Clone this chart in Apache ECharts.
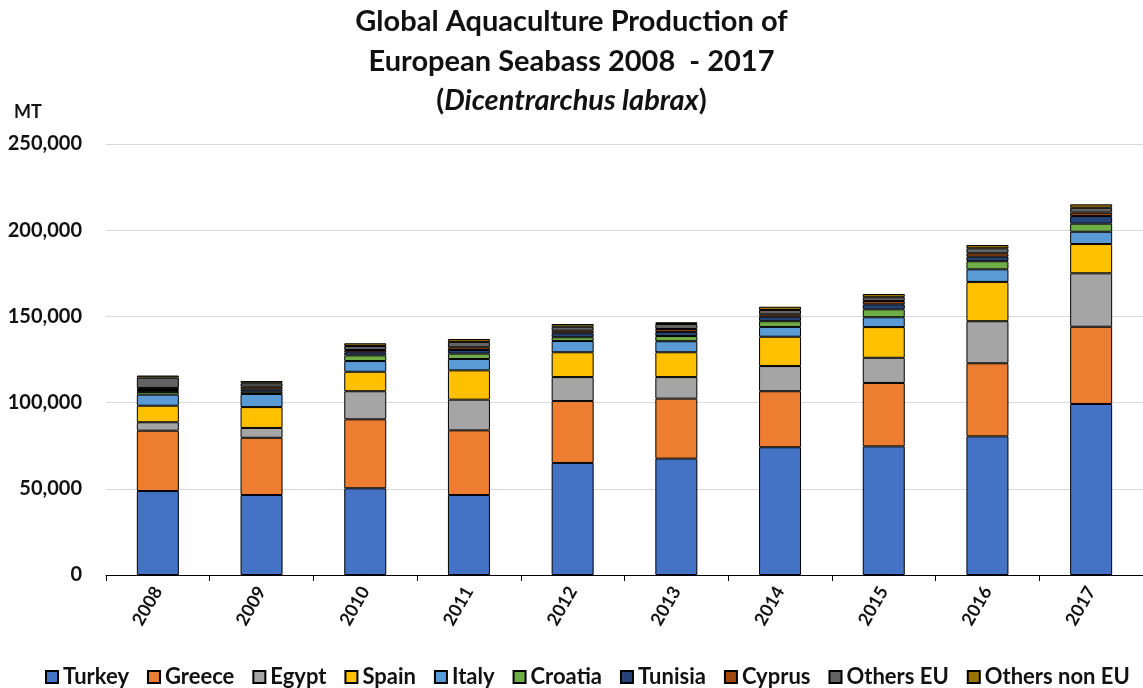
<!DOCTYPE html>
<html>
<head>
<meta charset="utf-8">
<script src="https://cdn.jsdelivr.net/npm/echarts@6/dist/echarts.min.js"></script>
<style>
  html, body { margin: 0; padding: 0; background: #fff; }
  #chart { width: 1143px; height: 688px; }
</style>
</head>
<body>
<div id="chart"></div>
<script>
// Production in metric tonnes (MT), by country, 2008-2017
const years = ['2008', '2009', '2010', '2011', '2012', '2013', '2014', '2015', '2016', '2017'];

const turkey      = [48700, 46400, 50300, 46400, 65000, 67500, 74100, 74600, 80400, 99200];
const greece      = [35000, 33200, 40000, 37500, 35900, 34800, 32500, 36800, 42400, 44800];
const egypt       = [4900, 5700, 16300, 17800, 13900, 12500, 14600, 14600, 24400, 31000];
const spain       = [9600, 12100, 11300, 17000, 14400, 14400, 17000, 17800, 22800, 17000];
const italy       = [6400, 7600, 6200, 6600, 6500, 6400, 5700, 5700, 7300, 7100];
const croatia     = [1600, 1300, 3300, 3100, 2200, 3000, 3300, 4600, 4700, 4700];
const tunisia     = [1100, 1400, 1800, 2100, 2300, 2400, 2600, 2900, 2600, 4400];
const cyprus      = [1200, 1500, 1300, 1600, 1500, 1700, 1400, 1900, 2000, 2000];
const othersEU    = [6000, 2000, 2300, 3100, 2300, 2900, 2500, 2200, 2900, 2800];
const othersNonEU = [1200, 1300, 1600, 1700, 1600, 1000, 1900, 1900, 1900, 2000];

const yTicks = [0, 50000, 100000, 150000, 200000, 250000];

const seriesDefs = [
  ['Turkey', turkey, '#4472C4'],
  ['Greece', greece, '#ED7D31'],
  ['Egypt', egypt, '#A5A5A5'],
  ['Spain', spain, '#FFC000'],
  ['Italy', italy, '#5B9BD5'],
  ['Croatia', croatia, '#70AD47'],
  ['Tunisia', tunisia, '#264478'],
  ['Cyprus', cyprus, '#9E480E'],
  ['Others EU', othersEU, '#636363'],
  ['Others non EU', othersNonEU, '#997300']
];

const FONT = 'Lato, "Open Sans", sans-serif';

const chart = echarts.init(document.getElementById('chart'), null, { renderer: 'canvas' });

chart.setOption({
  backgroundColor: '#ffffff',
  animation: false,
  textStyle: { fontFamily: FONT },
  title: {
    left: 'center',
    top: -3,
    text: 'Global Aquaculture Production of\nEuropean Seabass 2008  - 2017\n({i|Dicentrarchus labrax})',
    textStyle: {
      fontFamily: FONT,
      fontSize: 29,
      fontWeight: 'bold',
      color: '#111',
      lineHeight: 39.5,
      rich: {
        i: { fontFamily: FONT, fontSize: 29, fontWeight: 'bold', fontStyle: 'italic', color: '#111', lineHeight: 39.5 }
      }
    }
  },
  graphic: [{
    type: 'text',
    left: 14,
    top: 103,
    style: { text: 'MT', font: 'bold 18px ' + FONT, fill: '#111' }
  }],
  legend: {
    top: 661,
    left: 40,
    width: 1200,
    icon: 'rect',
    itemWidth: 12,
    itemHeight: 12,
    itemGap: 18,
    textStyle: { fontFamily: FONT, fontSize: 22, fontWeight: 'bold', color: '#111', padding: [0, 0, 0, 0] },
    data: seriesDefs.map(d => d[0])
  },
  grid: { left: 106, right: -7, top: 144, bottom: 113, containLabel: false },
  xAxis: {
    type: 'category',
    data: years,
    axisLine: { lineStyle: { color: '#000', width: 1 } },
    axisTick: { show: true, length: 6, lineStyle: { color: '#000' } },
    axisLabel: {
      rotate: 60,
      margin: 13,
      fontFamily: FONT,
      fontSize: 18,
      fontWeight: 'bold',
      color: '#111'
    }
  },
  yAxis: {
    type: 'value',
    min: yTicks[0],
    max: yTicks[yTicks.length - 1],
    interval: yTicks[1] - yTicks[0],
    axisLine: { show: false },
    axisTick: { show: false },
    splitLine: { lineStyle: { color: '#D9D9D9', width: 1 } },
    axisLabel: {
      margin: 24,
      fontFamily: FONT,
      fontSize: 20,
      fontWeight: 'bold',
      color: '#111',
      formatter: v => v.toLocaleString('en-US')
    }
  },
  series: seriesDefs.map(([name, values, color]) => ({
    name: name,
    type: 'bar',
    stack: 'total',
    barWidth: 42,
    data: values,
    itemStyle: { color: color, borderColor: '#000', borderWidth: 1 }
  }))
});
</script>
</body>
</html>
